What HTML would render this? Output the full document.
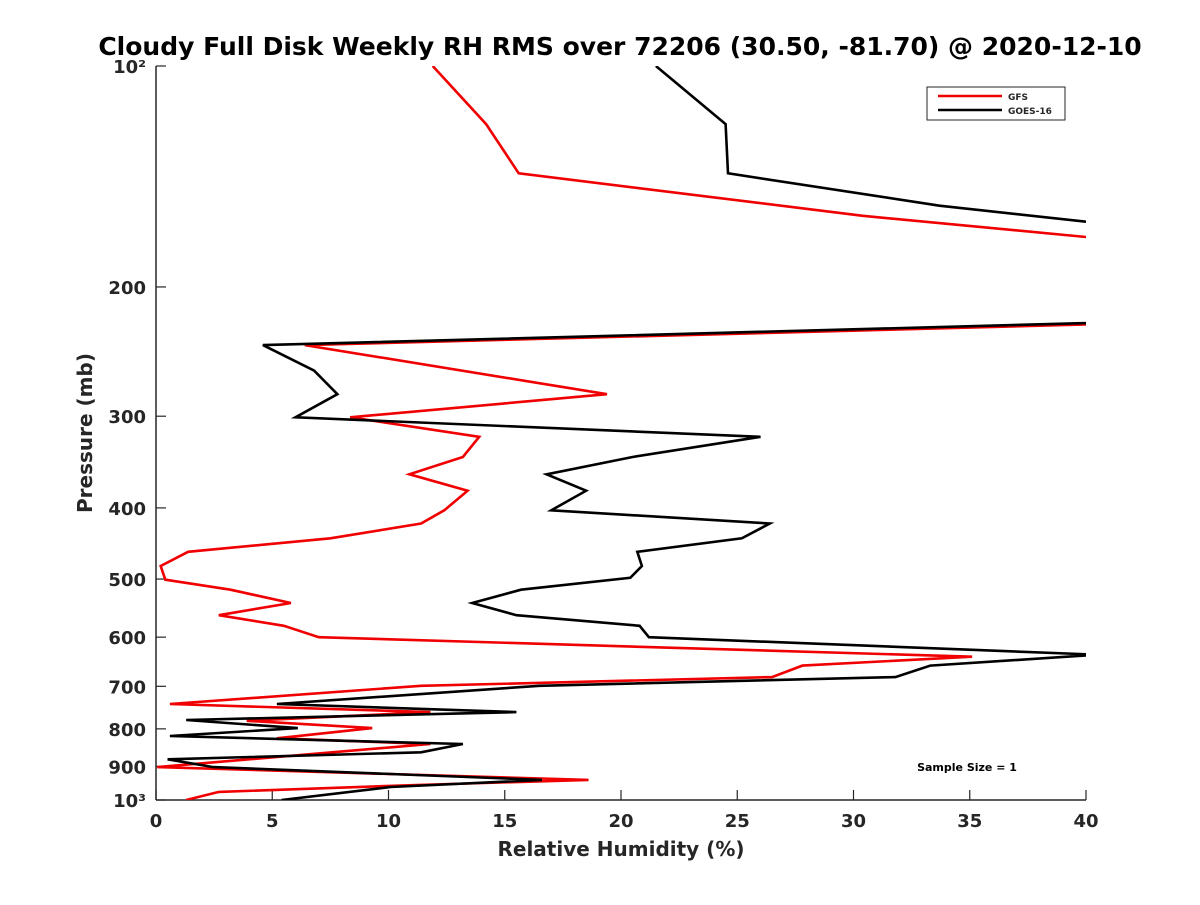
<!DOCTYPE html>
<html><head><meta charset="utf-8"><style>
body{margin:0;background:#fff;font-family:"Liberation Sans","DejaVu Sans",sans-serif}
svg text{font-family:"DejaVu Sans","Liberation Sans",sans-serif;font-weight:bold;fill:#262626}
</style></head><body>
<svg id="chart" width="1200" height="900" viewBox="0 0 1200 900">
<defs><clipPath id="clip"><rect x="156" y="66" width="930" height="734"/></clipPath></defs>
<text x="620" y="55" text-anchor="middle" font-size="25" style="fill:#000">Cloudy Full Disk Weekly RH RMS over 72206 (30.50, -81.70) @ 2020-12-10</text>
<g id="axes"></g>
<g id="series" clip-path="url(#clip)"></g>
<g>
<rect x="927" y="87" width="138" height="33" fill="#fff" stroke="#262626" stroke-width="1"/>
<line x1="938" y1="96" x2="1002" y2="96" stroke="#f00000" stroke-width="2.5"/>
<text x="1008" y="100" font-size="9">GFS</text>
<line x1="938" y1="110" x2="1002" y2="110" stroke="#000" stroke-width="2.5"/>
<text x="1008" y="114" font-size="9">GOES-16</text>
</g>
<text x="967" y="771" text-anchor="middle" font-size="11" style="fill:#000">Sample Size = 1</text>
<text x="621" y="856" text-anchor="middle" font-size="20">Relative Humidity (%)</text>
<text transform="translate(92,433) rotate(-90)" text-anchor="middle" font-size="20">Pressure (mb)</text>
</svg>
<script>
const xTicks=[0,5,10,15,20,25,30,35,40];
const yTicks=[100,200,300,400,500,600,700,800,900,1000];
const yTickLabels=["10²","200","300","400","500","600","700","800","900","10³"];
const gfsP=[100,120,140,160,171,196,225,240,280,301,320,341,360,379,403,420,440,459,480,501,517,539,560,579,600,638,656,680,699,740,759,780,798,824,839,902,939,954,975,1000];
const gfsRH=[11.9,14.2,15.6,30.4,40,60,40,6.4,19.4,8.35,13.9,13.2,10.9,13.4,12.4,11.4,7.5,1.38,0.2,0.4,3.2,5.8,2.7,5.5,7.0,35.1,27.8,26.5,11.4,0.6,11.8,3.9,9.3,5.2,11.8,0.05,18.6,11.2,2.7,1.3];
const goesP=[100,120,140,155,163,202,224,240,260,280,301,320,341,360,379,403,420,440,459,480,498,517,539,560,579,600,634,656,680,699,740,759,778,798,818,839,861,880,902,939,960,1000];
const goesRH=[21.5,24.5,24.6,33.7,40,60,40,4.6,6.8,7.8,6.0,26.0,20.5,16.8,18.5,17.0,26.4,25.2,20.7,20.9,20.4,15.7,13.6,15.5,20.8,21.2,40.5,33.3,31.8,16.5,5.2,15.5,1.3,6.1,0.6,13.2,11.4,0.5,2.46,16.6,10.1,5.4];
const X0=156,X1=1086,Y0=66,Y1=800;
const xs=v=>X0+(v-0)/40*(X1-X0);
const ys=p=>Y0+(Math.log10(p)-2)*(Y1-Y0);
const NS="http://www.w3.org/2000/svg";
const axes=document.getElementById('axes'),series=document.getElementById('series');
function mk(tag,attrs,parent){const e=document.createElementNS(NS,tag);for(const k in attrs)e.setAttribute(k,attrs[k]);parent.appendChild(e);return e;}
const yAxis=mk('line',{x1:X0,y1:Y0,x2:X0,y2:Y1,stroke:'#262626','stroke-width':1.5},axes);


const xAxis=mk('line',{x1:X0,y1:Y1,x2:X1,y2:Y1,stroke:'#262626','stroke-width':1.5},axes);


xTicks.forEach(v=>{
  const t=mk('line',{x1:xs(v),y1:Y1,x2:xs(v),y2:Y1-10,stroke:'#262626','stroke-width':1.2},axes);
  
  
  const l=mk('text',{x:xs(v),y:Y1+27,'text-anchor':'middle','font-size':18},axes);l.textContent=v;
  
  
});
yTicks.forEach((p,i)=>{
  const t=mk('line',{x1:X0,y1:ys(p),x2:X0+10,y2:ys(p),stroke:'#262626','stroke-width':1.2},axes);
  
  
  const l=mk('text',{x:X0-10,y:ys(p)+7,'text-anchor':'end','font-size':18},axes);l.textContent=yTickLabels[i];
  
  
});
function draw(P,R,color,name){
  const pts=P.map((p,i)=>xs(R[i]).toFixed(1)+','+ys(p).toFixed(1)).join(' ');
  const pl=mk('polyline',{points:pts,fill:'none',stroke:color,'stroke-width':2.6,'stroke-linejoin':'miter'},series);
  
  
}
draw(gfsP,gfsRH,'#f00000','gfs-line');
draw(goesP,goesRH,'#000000','goes16-line');
</script>
</body></html>
